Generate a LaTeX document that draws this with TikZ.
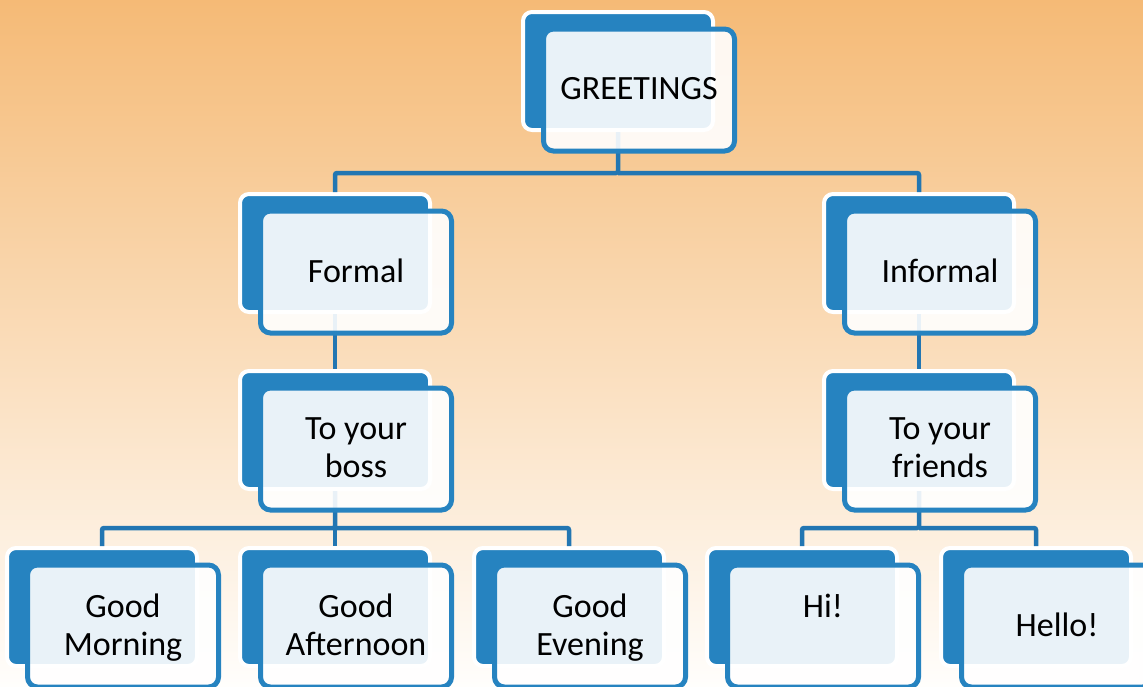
\documentclass[tikz,border=0pt]{standalone}
\usepackage{fontspec}
\setmainfont{Carlito}
\usetikzlibrary{calc}
\definecolor{boxblue}{RGB}{38,131,192}
\definecolor{lineblue}{RGB}{34,118,178}
\definecolor{bgtop}{RGB}{245,186,118}
\definecolor{bgmid}{RGB}{252,232,210}
\definecolor{bgbot}{RGB}{255,254,252}

\begin{document}
\begin{tikzpicture}[x=1pt, y=-1pt,
  back/.style={rectangle, rounded corners=9pt, fill=boxblue, draw=white, line width=4pt,
    minimum width=190pt, minimum height=118pt},
  front/.style={rectangle, rounded corners=10pt, fill=white, fill opacity=0.9, text opacity=1,
    draw=boxblue, line width=5pt, minimum width=191pt, minimum height=122pt,
    align=center, font=\fontsize{34}{38}\selectfont, text depth=3pt},
  conn/.style={lineblue, line width=4.5pt, rounded corners=2pt}]
  \useasboundingbox (0,0) rectangle (1143,686);
  \clip (0,0) rectangle (1143,686);
  \shade[top color=bgtop, middle color=bgmid, bottom color=bgbot] (0,0) rectangle (1143,686);

  % back boxes
  \node[back] (greetB) at (618,71) {};
  \node[back] (formalB) at (335,253) {};
  \node[back] (informalB) at (919,253) {};
  \node[back] (bossB) at (335,430) {};
  \node[back] (friendsB) at (919,430) {};
  \node[back] (morningB) at (102,607) {};
  \node[back] (afternoonB) at (335,607) {};
  \node[back] (eveningB) at (569,607) {};
  \node[back] (hiB) at (802,607) {};
  \node[back] (helloB) at (1036,607) {};

  % connectors
  \coordinate (bus1) at (0,173);
  \coordinate (bus2) at (0,528);
  \draw[conn] (greetB.south) -- (greetB.south |- bus1) -| (formalB.north);
  \draw[conn] (greetB.south |- bus1) -| (informalB.north);
  \draw[conn] (formalB.south) -- (bossB.north);
  \draw[conn] (informalB.south) -- (friendsB.north);
  \draw[conn] (bossB.south) -- (bossB.south |- bus2) -| (morningB.north);
  \draw[conn] (bossB.south |- bus2) -| (eveningB.north);
  \draw[conn] (bossB.south |- bus2) -- (afternoonB.north);
  \draw[conn] (friendsB.south) -- (friendsB.south |- bus2) -| (hiB.north);
  \draw[conn] (friendsB.south |- bus2) -| (helloB.north);

  % front boxes
  \node[front] (greet) at (639,90) {GREETINGS};
  \node[front] (formal) at (356,272) {Formal};
  \node[front] (informal) at (940,272) {Informal};
  \node[front] (boss) at (356,449) {To your\\boss};
  \node[front] (friends) at (940,449) {To your\\friends};
  \node[front] (morning) at (123,626) {Good\\Morning};
  \node[front] (afternoon) at (356,626) {Good\\Afternoon};
  \node[front] (evening) at (590,626) {Good\\Evening};
  \node[front] (hi) at (823,626) {Hi!\\\mbox{}};
  \node[front] (hello) at (1057,626) {Hello!};
\end{tikzpicture}
\end{document}
